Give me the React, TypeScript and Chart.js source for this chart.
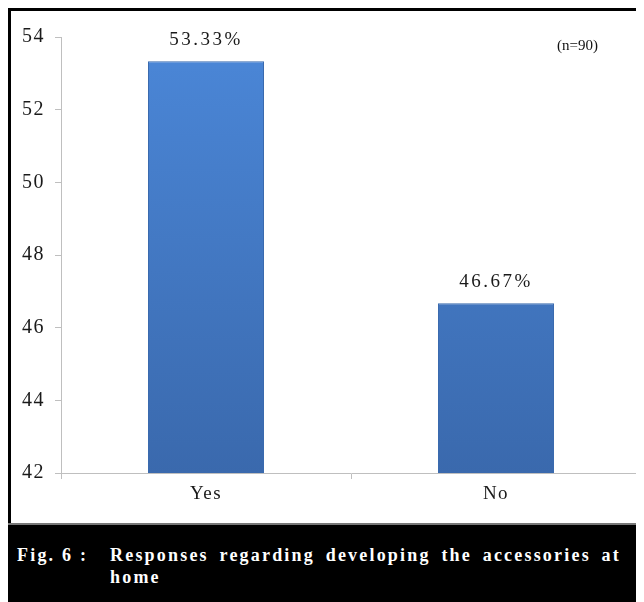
import React, { useEffect, useRef } from "react";
import { Chart, registerables } from "chart.js";

Chart.register(...registerables);

const categories = ["Yes", "No"];
const values = [53.33, 46.67];
const valueLabels = ["53.33%", "46.67%"];
const yMin = 42;
const yMax = 54;
const yStep = 2;
const sampleNote = "(n=90)";
const captionLabel = "Fig. 6 :";
const captionLine1 = "Responses regarding developing the accessories at";
const captionLine2 = "home";

const SERIF = "'Times New Roman', 'Liberation Serif', Times, serif";

const labelPlugin = {
  id: "valueLabels",
  beforeDraw(chart: any) {
    (chart.ctx as any).letterSpacing = "1.5px";
  },
  afterDatasetsDraw(chart: any) {
    const ctx = chart.ctx;
    const meta = chart.getDatasetMeta(0);
    ctx.save();
    ctx.fillStyle = "#1a1a1a";
    ctx.font = `19px ${SERIF}`;
    (ctx as any).letterSpacing = "2.5px";
    ctx.textAlign = "center";
    ctx.textBaseline = "bottom";
    meta.data.forEach((bar: any, i: number) => {
      ctx.fillText(valueLabels[i], bar.x, bar.y - 12);
    });
    (ctx as any).letterSpacing = "0px";
    ctx.font = `15px ${SERIF}`;
    ctx.textAlign = "left";
    ctx.textBaseline = "middle";
    ctx.fillStyle = "#111";
    ctx.fillText(sampleNote, 546, 35);
    ctx.restore();
  },
  afterDraw(chart: any) {
    (chart.ctx as any).letterSpacing = "0px";
  },
};

function ChartView() {
  const ref = useRef<HTMLCanvasElement | null>(null);
  useEffect(() => {
    if (!ref.current) return;
    const chart = new Chart(ref.current, {
      type: "bar",
      data: {
        labels: categories,
        datasets: [
          {
            data: values,
            backgroundColor: (c: any) => {
              const area = c.chart.chartArea;
              if (!area) return "#4680d0";
              const g = c.chart.ctx.createLinearGradient(0, area.top, 0, area.bottom);
              g.addColorStop(0, "#4b87d8");
              g.addColorStop(1, "#3a69ad");
              return g;
            },
            borderColor: "#3a6aae",
            borderWidth: 1,
            barPercentage: 0.4,
            categoryPercentage: 1,
          },
        ],
      },
      options: {
        animation: false,
        responsive: false,
        maintainAspectRatio: false,
        layout: { padding: { top: 26, left: 0, right: 3, bottom: 0 } },
        plugins: { legend: { display: false }, tooltip: { enabled: false } },
        scales: {
          x: {
            offset: true,
            grid: {
              offset: true,
              drawOnChartArea: false,
              tickLength: 6,
              color: "#bfbfbf",
            },
            border: { color: "#bfbfbf", width: 1 },
            ticks: {
              padding: 4,
              color: "#1a1a1a",
              font: { family: SERIF, size: 19 },
            },
            afterFit: (s: any) => {
              s.height = 50;
            },
          },
          y: {
            min: yMin,
            max: yMax,
            grid: {
              drawOnChartArea: false,
              tickLength: 6,
              color: "#bfbfbf",
            },
            border: { color: "#bfbfbf", width: 1 },
            ticks: {
              stepSize: yStep,
              padding: 10,
              color: "#1a1a1a",
              font: { family: SERIF, size: 20 },
            },
            afterFit: (s: any) => {
              s.width = 50;
            },
          },
        },
      },
      plugins: [labelPlugin],
    });
    return () => chart.destroy();
  }, []);
  return <canvas ref={ref} width={633} height={512} style={{ display: "block" }} />;
}

export default function App() {
  return (
    <div style={{ width: 636, height: 594, overflow: "hidden", position: "relative", background: "#fff" }}>
      <div
        style={{
          position: "absolute",
          left: 0,
          top: 0,
          width: 636,
          height: 515,
          borderTop: "3px solid #000",
          borderLeft: "3px solid #000",
          boxSizing: "border-box",
          background: "#fff",
        }}
      >
        <ChartView />
      </div>
      <div
        style={{
          position: "absolute",
          left: 0,
          top: 515,
          width: 636,
          height: 79,
          background: "#000",
          borderTop: "2px solid #777",
          boxSizing: "border-box",
          color: "#fff",
          fontFamily: SERIF,
          fontWeight: "bold",
          fontSize: 18,
          letterSpacing: "2.2px",
          whiteSpace: "nowrap",
          overflow: "hidden",
        }}
      >
        <div style={{ position: "absolute", left: 9, top: 20 }}>{captionLabel}</div>
        <div style={{ position: "absolute", left: 102, top: 20, wordSpacing: "4px" }}>{captionLine1}</div>
        <div style={{ position: "absolute", left: 102, top: 42 }}>{captionLine2}</div>
      </div>
    </div>
  );
}
